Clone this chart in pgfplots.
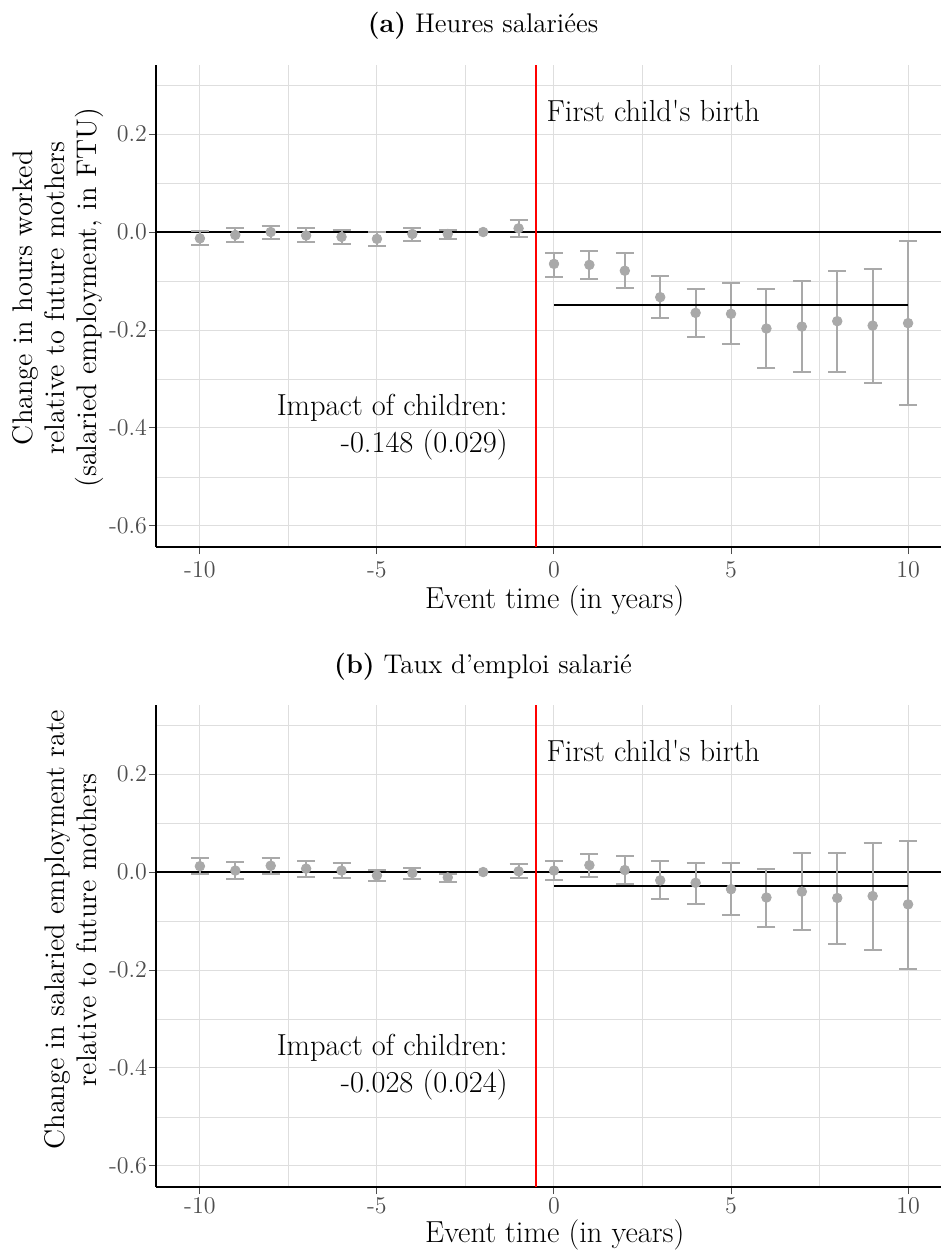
\documentclass[border=0pt]{standalone}
\usepackage{pgfplots}
\pgfplotsset{compat=1.18}
\usepackage{pgfplotstable}
\definecolor{ptgray}{HTML}{A9A9A9}
\definecolor{gridgray}{HTML}{DEDEDE}
\definecolor{tickgray}{HTML}{4D4D4D}

\pgfplotstableread{
x y ep em
-10 -0.013 0.016 0.014
-9 -0.006 0.0135 0.015
-8 0.000 0.013 0.014
-7 -0.007 0.0145 0.014
-6 -0.010 0.014 0.014
-5 -0.014 0.0133 0.014
-4 -0.004 0.013 0.014
-3 -0.004 0.009 0.010
-1 0.0075 0.017 0.0185
0 -0.065 0.023 0.027
1 -0.067 0.028 0.029
2 -0.079 0.0355 0.035
3 -0.133 0.043 0.043
4 -0.165 0.049 0.049
5 -0.167 0.062 0.062
6 -0.197 0.080 0.080
7 -0.193 0.094 0.093
8 -0.182 0.103 0.103
9 -0.191 0.116 0.118
10 -0.186 0.168 0.168
}\topdata

\pgfplotstableread{
x y ep em
-10 0.012 0.017 0.017
-9 0.003 0.017 0.017
-8 0.013 0.016 0.016
-7 0.007 0.015 0.017
-6 0.003 0.015 0.015
-5 -0.007 0.012 0.012
-4 -0.002 0.011 0.012
-3 -0.011 0.008 0.009
-1 0.0014 0.0146 0.0134
0 0.003 0.020 0.020
1 0.014 0.023 0.024
2 0.004 0.029 0.028
3 -0.017 0.039 0.039
4 -0.022 0.041 0.044
5 -0.035 0.053 0.053
6 -0.052 0.059 0.060
7 -0.040 0.078 0.079
8 -0.053 0.092 0.093
9 -0.049 0.109 0.110
10 -0.066 0.130 0.132
}\botdata

\newcommand{\bigf}{\fontsize{15.2}{18.5}\selectfont}
\newcommand{\ylf}{\fontsize{14.2}{16}\selectfont}

\pgfplotsset{evstyle/.style={
  scale only axis, width=392.5pt, height=241pt,
  xmin=-11.24, xmax=10.93, ymin=-0.643, ymax=0.341,
  axis x line=bottom, axis y line=left,
  axis line style={-, black, line width=0.9pt},
  xtick={-10,-5,0,5,10}, xticklabels={-10,-5,0,5,10},
  minor xtick={-7.5,-2.5,2.5,7.5},
  ytick={-0.6,-0.4,-0.2,0,0.2}, yticklabels={-0.6,-0.4,-0.2,0.0,0.2},
  minor ytick={-0.5,-0.3,-0.1,0.1,0.3},
  grid=both,
  major grid style={gridgray, line width=0.5pt},
  minor grid style={gridgray, line width=0.45pt},
  minor tick length=0pt, major tick length=3.5pt, tick align=outside,
  tick style={tickgray, line width=0.5pt},
  yticklabel style={font=\fontsize{12}{14}\selectfont, text=tickgray, inner sep=0.8pt},
  xlabel={Event time (in years)},
  xlabel style={at={(axis description cs:0.508,-0.0788)}, anchor=north, inner sep=0pt, font=\bigf},
  every axis title/.style={at={(axis description cs:0.4166,1)}, anchor=base, yshift=16pt, font=\fontsize{13.5}{16}\selectfont},
  clip=true,
}}

\begin{document}
\begin{tikzpicture}
\path[use as bounding box] (-78pt,32.5pt) rectangle (392.5pt,-593pt);

% Panel (a)
\begin{axis}[evstyle, at={(0pt,0pt)}, anchor=north west,
  xticklabel style={font=\fontsize{12}{14}\selectfont, text=tickgray, inner sep=0pt, yshift=-3.5pt},
  title={\textbf{(a)} Heures salariées},
  ylabel style={at={(axis description cs:-0.0666,0.517)}, anchor=south, inner sep=0pt, font=\ylf, align=center},
  ylabel={Change in hours worked\\relative to future mothers\\(salaried employment, in FTU)}]
\addplot[black, line width=1pt] coordinates {(-11.24,0) (10.93,0)};
\addplot[red, line width=1pt] coordinates {(-0.5,-0.643) (-0.5,0.341)};
\addplot[only marks, mark=*, mark size=2.4pt, color=ptgray, mark options={draw=ptgray, fill=ptgray},
  error bars/.cd, y dir=both, y explicit,
  error bar style={line width=1pt, color=ptgray},
  error mark options={line width=1pt, mark size=4.5pt, color=ptgray, rotate=90}]
  table[x=x, y=y, y error plus=ep, y error minus=em] {\topdata};
\addplot[only marks, mark=*, mark size=2.4pt, color=ptgray, mark options={draw=ptgray, fill=ptgray}] coordinates {(-2,0)};
\addplot[black, line width=1pt] coordinates {(0,-0.148) (10,-0.148)};
\node[anchor=base west, inner sep=0pt, font=\bigf] at (axis cs:-0.22,0.2265) {First child\textquotesingle s birth};
\node[anchor=base east, inner sep=0pt, font=\bigf] at (axis cs:-1.30,-0.3755) {Impact of children:};
\node[anchor=base east, inner sep=0pt, font=\bigf] at (axis cs:-1.30,-0.451) {-0.148 (0.029)};
\end{axis}

% Panel (b)
\begin{axis}[evstyle, at={(0pt,-320pt)}, anchor=north west,
  xticklabel style={font=\fontsize{12}{14}\selectfont, text=tickgray, inner sep=0pt, yshift=-1.5pt},
  title={\textbf{(b)} Taux d’emploi salarié},
  xlabel style={at={(axis description cs:0.508,-0.0664)}},
  ylabel style={at={(axis description cs:-0.0752,0.534)}, anchor=south, inner sep=0pt, font=\ylf, align=center},
  ylabel={Change in salaried employment rate\\relative to future mothers}]
\addplot[black, line width=1pt] coordinates {(-11.24,0) (10.93,0)};
\addplot[red, line width=1pt] coordinates {(-0.5,-0.643) (-0.5,0.341)};
\addplot[only marks, mark=*, mark size=2.4pt, color=ptgray, mark options={draw=ptgray, fill=ptgray},
  error bars/.cd, y dir=both, y explicit,
  error bar style={line width=1pt, color=ptgray},
  error mark options={line width=1pt, mark size=4.5pt, color=ptgray, rotate=90}]
  table[x=x, y=y, y error plus=ep, y error minus=em] {\botdata};
\addplot[only marks, mark=*, mark size=2.4pt, color=ptgray, mark options={draw=ptgray, fill=ptgray}] coordinates {(-2,0)};
\addplot[black, line width=1pt] coordinates {(0,-0.028) (10,-0.028)};
\node[anchor=base west, inner sep=0pt, font=\bigf] at (axis cs:-0.22,0.2265) {First child\textquotesingle s birth};
\node[anchor=base east, inner sep=0pt, font=\bigf] at (axis cs:-1.30,-0.3755) {Impact of children:};
\node[anchor=base east, inner sep=0pt, font=\bigf] at (axis cs:-1.30,-0.451) {-0.028 (0.024)};
\end{axis}
\end{tikzpicture}
\end{document}
